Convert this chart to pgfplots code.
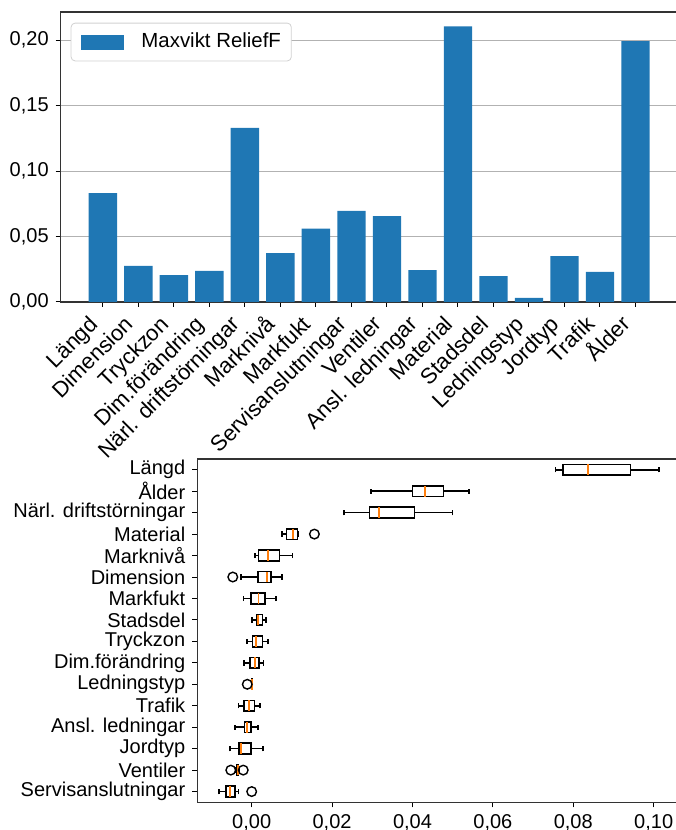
\documentclass[border=0pt]{standalone}
\usepackage{pgfplots}
\pgfplotsset{compat=1.18}
\usepgfplotslibrary{statistics}
\usepackage{fontspec}
\setmainfont{Liberation Sans}
\definecolor{mplblue}{HTML}{1F77B4}
\definecolor{mplorange}{HTML}{FF7F0E}
\begin{document}
\begin{tikzpicture}[x=1pt,y=1pt]
\useasboundingbox (0,0) rectangle (337.5,415);
% ---------- top: bar chart ----------
\begin{axis}[
  at={(30.35pt,264pt)}, anchor=south west,
  width=308.5pt, height=145pt, scale only axis,
  xmin=-1.19, xmax=16.19, ymin=0, ymax=0.2214,
  axis line style={line width=0.6pt, black!80},
  tick align=outside, tick pos=left,
  major tick length=2.5pt,
  every tick/.style={black, line width=0.5pt},
  xtick={0,...,15},
  xticklabels={Längd,Dimension,Tryckzon,Dim.förändring,Närl. driftstörningar,Marknivå,Markfukt,Servisanslutningar,Ventiler,Ansl. ledningar,Material,Stadsdel,Ledningstyp,Jordtyp,Trafik,Ålder},
  xticklabel style={font=\fontsize{11}{13}\selectfont, anchor=north east, inner sep=0pt, text height=0.72em, text depth=0.21em, xshift=-7pt, yshift=-4pt, rotate=45},
  ytick={0,0.05,0.10,0.15,0.20},
  scaled y ticks=false,
  /pgf/number format/use comma,
  /pgf/number format/fixed,
  /pgf/number format/fixed zerofill,
  /pgf/number format/precision=2,
  /pgf/number format/assume math mode=true,
  ymajorgrids,
  major grid style={line width=0.5pt, black!30},
  legend style={at={(0.0162,0.963)}, anchor=north west, draw=black!18, rounded corners=2pt,
    inner xsep=5.2pt, inner ysep=4.8pt, column sep=8.5pt,
    nodes={inner sep=0pt, text height=0.72em, text depth=0.21em}, font=\fontsize{10.2}{12}\selectfont},
  legend cell align=left,
  legend image code/.code={\fill[mplblue, sharp corners] (0pt,-3.75pt) rectangle (21.5pt,3.75pt);},
]
\addplot[ybar, bar width=0.8, fill=mplblue, draw=none] coordinates {
  (0,0.0832) (1,0.0275) (2,0.0206) (3,0.0237) (4,0.1330) (5,0.0374)
  (6,0.0560) (7,0.0695) (8,0.0656) (9,0.0244) (10,0.2105) (11,0.0198)
  (12,0.0031) (13,0.0351) (14,0.0229) (15,0.1992)
};
\addlegendentry{Maxvikt ReliefF}
\end{axis}
% ---------- bottom: boxplots ----------
\begin{axis}[
  at={(98.65pt,13.85pt)}, anchor=south west,
  width=241.85pt, height=171.65pt, scale only axis,
  xmin=-0.01353, xmax=0.1068, ymin=0.5, ymax=16.5,
  axis line style={line width=0.6pt, black!80},
  tick align=outside, tick pos=left,
  major tick length=2.5pt,
  every tick/.style={black, line width=0.5pt},
  ytick={1,...,16},
  yticklabels={Servisanslutningar,Ventiler,Jordtyp,Ansl. ledningar,Trafik,Ledningstyp,Dim.förändring,Tryckzon,Stadsdel,Markfukt,Dimension,Marknivå,Material,Närl. driftstörningar,Ålder,Längd},
  xtick={0,0.02,0.04,0.06,0.08,0.10},
  scaled x ticks=false,
  /pgf/number format/use comma,
  /pgf/number format/fixed,
  /pgf/number format/fixed zerofill,
  /pgf/number format/precision=2,
  /pgf/number format/assume math mode=true,
  boxplot/draw direction=x,
  boxplot/box extend=0.5,
  boxplot/whisker extend=0.25,
  boxplot/every box/.style={draw=black, fill=white, line width=0.8pt},
  boxplot/every whisker/.style={black, line width=0.8pt},
  boxplot/every median/.style={mplorange, line width=0.9pt},
  bp/.style={black, line width=0.8pt, mark=o, mark size=2.4pt, mark options={black, solid, line width=0.7pt}},
]
% Längd
\addplot[bp, boxplot prepared={draw position=16, lower whisker=0.0756, lower quartile=0.0774, median=0.0837, upper quartile=0.0942, upper whisker=0.1013}] coordinates {};
% Ålder
\addplot[bp, boxplot prepared={draw position=15, lower whisker=0.0297, lower quartile=0.0400, median=0.0432, upper quartile=0.0477, upper whisker=0.0541}] coordinates {};
% Närl. driftstörningar
\addplot[bp, boxplot prepared={draw position=14, lower whisker=0.0230, lower quartile=0.0293, median=0.0317, upper quartile=0.0405, upper whisker=0.0500}] coordinates {};
% Material
\addplot[bp, boxplot prepared={draw position=13, lower whisker=0.0075, lower quartile=0.0087, median=0.0102, upper quartile=0.0114, upper whisker=0.0115}] coordinates {(0,0.0156)};
% Marknivå
\addplot[bp, boxplot prepared={draw position=12, lower whisker=0.0008, lower quartile=0.0017, median=0.0041, upper quartile=0.0069, upper whisker=0.0102}] coordinates {};
% Dimension
\addplot[bp, boxplot prepared={draw position=11, lower whisker=-0.0027, lower quartile=0.0015, median=0.0038, upper quartile=0.0048, upper whisker=0.0075}] coordinates {(0,-0.0047)};
% Markfukt
\addplot[bp, boxplot prepared={draw position=10, lower whisker=-0.0020, lower quartile=-0.0001, median=0.0017, upper quartile=0.0033, upper whisker=0.0061}] coordinates {};
% Stadsdel
\addplot[bp, boxplot prepared={draw position=9, lower whisker=0.0001, lower quartile=0.0012, median=0.0015, upper quartile=0.0027, upper whisker=0.0036}] coordinates {};
% Tryckzon
\addplot[bp, boxplot prepared={draw position=8, lower whisker=-0.0012, lower quartile=0.0002, median=0.0011, upper quartile=0.0027, upper whisker=0.0041}] coordinates {};
% Dim.förändring
\addplot[bp, boxplot prepared={draw position=7, lower whisker=-0.0019, lower quartile=-0.0004, median=0.0008, upper quartile=0.0018, upper whisker=0.0029}] coordinates {};
% Ledningstyp
\addplot[bp, boxplot prepared={draw position=6, lower whisker=0.0, lower quartile=0.0, median=0.0, upper quartile=0.0001, upper whisker=0.0001}] coordinates {(0,-0.0011)};
% Trafik
\addplot[bp, boxplot prepared={draw position=5, lower whisker=-0.0033, lower quartile=-0.0019, median=-0.0006, upper quartile=0.0007, upper whisker=0.0021}] coordinates {};
% Ansl. ledningar
\addplot[bp, boxplot prepared={draw position=4, lower whisker=-0.0041, lower quartile=-0.0018, median=-0.0012, upper quartile=-0.0002, upper whisker=0.0016}] coordinates {};
% Jordtyp
\addplot[bp, boxplot prepared={draw position=3, lower whisker=-0.0054, lower quartile=-0.0031, median=-0.0027, upper quartile=-0.0002, upper whisker=0.0028}] coordinates {};
% Ventiler
\addplot[bp, boxplot prepared={draw position=2, lower whisker=-0.0039, lower quartile=-0.0037, median=-0.0035, upper quartile=-0.0034, upper whisker=-0.0032}] coordinates {(0,-0.0052) (0,-0.0021)};
% Servisanslutningar
\addplot[bp, boxplot prepared={draw position=1, lower whisker=-0.0081, lower quartile=-0.0064, median=-0.0053, upper quartile=-0.0042, upper whisker=-0.0033}] coordinates {(0,0.0000)};
\end{axis}
\end{tikzpicture}
\end{document}
